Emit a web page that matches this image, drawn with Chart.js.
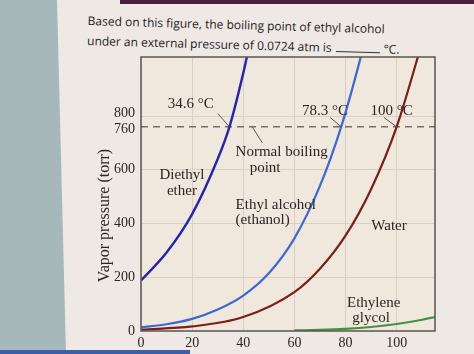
<!DOCTYPE html>
<html>
<head>
<meta charset="utf-8">
<script src="https://cdn.jsdelivr.net/npm/chart.js@4/dist/chart.umd.min.js"></script>
<style>
  html, body { margin: 0; padding: 0; }
  body { width: 474px; height: 354px; position: relative; overflow: hidden; background: #eee9e4; }
  #strip { position: absolute; left: 0; top: 0; width: 70px; height: 354px; background: #a7b8bb;
           clip-path: polygon(0 0, 57px 0, 66px 354px, 0 354px); }
  #topband { position: absolute; left: 120px; top: 0; width: 354px; height: 4px; background: #4a1f3a; }
  #botband { position: absolute; left: 0; top: 350px; width: 190px; height: 4px; background: #3e5fa8; }
  #head { position: absolute; left: 88px; top: 11px; font-family: "Open Sans", sans-serif; font-size: 12px;
          color: #222; line-height: 20px; transform: rotate(1.6deg); transform-origin: 0 0; white-space: nowrap; }
  #head .blank { display: inline-block; width: 44px; border-bottom: 1px solid #333; height: 12px; margin: 0 4px; }
  canvas { position: absolute; left: 0; top: 0; }
</style>
</head>
<body>
<div id="strip"></div>
<div id="topband"></div>
<div id="botband"></div>
<div id="head">Based on this figure, the boiling point of ethyl alcohol<br>under an external pressure of 0.0724 atm is<span class="blank"></span>°C.</div>
<canvas id="chart" width="474" height="354"></canvas>
<script>
// vapor pressure curves, [temperature °C, torr]
const etherPts = [[0, 188], [10, 292], [20, 435], [30, 640], [34.6, 760], [40, 960], [43, 1090]];
const ethanolPts = [[0, 14], [10, 25], [20, 45], [30, 80], [40, 132], [50, 215], [60, 345], [70, 540], [78.3, 760], [85, 985], [88, 1100]];
const waterPts = [[0, 5], [20, 17], [40, 52], [60, 145], [70, 232], [80, 355], [90, 528], [100, 760], [110, 1075]];
const glycolPts = [[60, 2], [70, 4], [80, 8], [90, 15], [100, 26], [110, 42], [115, 52]];

const xTicks = [0, 20, 40, 60, 80, 100];
const yTicks = [0, 200, 400, 600, 760, 800];
const gridY = [200, 400, 600, 800];
// 800 and 760 sit close together, nudge their labels apart (px)
const yLabelNudge = { 800: -3, 760: 2 };

const serif = '"Liberation Serif", "DejaVu Serif", serif';
const toXY = pts => pts.map(p => ({x: p[0], y: p[1]}));

const notes = {
  id: 'notes',
  beforeDraw(chart) {
    const {ctx, chartArea: a} = chart;
    ctx.save();
    ctx.fillStyle = '#f0e8dd';
    ctx.fillRect(a.left, a.top, a.right - a.left, a.bottom - a.top);
    ctx.restore();
  },
  afterDraw(chart) {
    const {ctx, chartArea: a, scales: {x, y}} = chart;
    const px = v => x.getPixelForValue(v), py = v => y.getPixelForValue(v);
    ctx.save();
    // frame
    ctx.strokeStyle = '#5a5552';
    ctx.lineWidth = 1.5;
    ctx.strokeRect(a.left, a.top, a.right - a.left, a.bottom - a.top);
    // 760 torr dashed line
    ctx.strokeStyle = '#333';
    ctx.lineWidth = 1;
    ctx.setLineDash([7, 5]);
    ctx.beginPath();
    ctx.moveTo(a.left, py(760));
    ctx.lineTo(a.right, py(760));
    ctx.stroke();
    ctx.setLineDash([]);
    // leader lines
    ctx.strokeStyle = '#555';
    const lead = (x1, y1, x2, y2) => { ctx.beginPath(); ctx.moveTo(px(x1), py(y1)); ctx.lineTo(px(x2), py(y2)); ctx.stroke(); };
    lead(30, 810, 34.6, 760);
    lead(74, 795, 78.3, 760);
    lead(95, 795, 100, 760);
    lead(43.5, 760, 47.5, 700);
    // crowded y tick labels
    ctx.fillStyle = '#2a2622';
    ctx.font = '14px ' + serif;
    ctx.textBaseline = 'middle';
    ctx.textAlign = 'right';
    Object.keys(yLabelNudge).forEach(k => ctx.fillText(k, a.left - 6, py(+k) + yLabelNudge[k]));
    // labels
    ctx.font = '15px ' + serif;
    ctx.textAlign = 'center';
    ctx.fillText('34.6 °C', px(19.5), py(845));
    ctx.fillText('78.3 °C', px(72), py(820));
    ctx.fillText('100 °C', px(98), py(820));
    ctx.fillText('Diethyl', px(16), py(580));
    ctx.fillText('ether', px(16), py(522));
    ctx.fillText('Water', px(97), py(390));
    ctx.fillText('Ethylene', px(91), py(105));
    ctx.fillText('glycol', px(90), py(50));
    ctx.textAlign = 'left';
    ctx.fillText('Normal boiling', px(37), py(665));
    ctx.fillText('point', px(42.5), py(608));
    ctx.fillText('Ethyl alcohol', px(37), py(470));
    ctx.fillText('(ethanol)', px(37), py(413));
    // y axis title
    ctx.translate(105, py(430));
    ctx.rotate(-Math.PI / 2);
    ctx.textAlign = 'center';
    ctx.font = '16px ' + serif;
    ctx.fillText('Vapor pressure (torr)', 0, 0);
    ctx.restore();
  }
};

const line = (pts, color, w) => ({
  data: toXY(pts), borderColor: color, borderWidth: w, showLine: true,
  pointRadius: 0, cubicInterpolationMode: 'monotone', fill: false
});

new Chart(document.getElementById('chart'), {
  type: 'scatter',
  data: {
    datasets: [
      line(etherPts, '#2424b0', 2.4),
      line(ethanolPts, '#3a68d6', 2.2),
      line(waterPts, '#7e1c18', 2.2),
      line(glycolPts, '#3f9440', 2.2)
    ]
  },
  options: {
    responsive: false,
    animation: false,
    layout: { padding: { left: 0, top: 57, right: 39, bottom: 0 } },
    plugins: { legend: { display: false }, tooltip: { enabled: false } },
    scales: {
      x: {
        type: 'linear', min: 0, max: 115,
        afterFit: s => { s.height = 23; },
        afterBuildTicks: s => { s.ticks = xTicks.map(v => ({value: v})); },
        grid: { color: '#d9d0c4', drawTicks: false, lineWidth: 1 },
        border: { display: false },
        ticks: { color: '#2a2622', font: { family: serif, size: 14 }, padding: 4, autoSkip: false, maxRotation: 0 }
      },
      y: {
        type: 'linear', min: 0, max: 1020,
        afterFit: s => { s.width = 141; },
        afterBuildTicks: s => { s.ticks = yTicks.map(v => ({value: v})); },
        grid: { color: c => gridY.includes(c.tick && c.tick.value) ? '#d9d0c4' : 'rgba(0,0,0,0)', drawTicks: false },
        border: { display: false },
        ticks: {
          color: '#2a2622', font: { family: serif, size: 14 }, padding: 6, autoSkip: false,
          callback: v => (v in yLabelNudge ? '' : v)
        }
      }
    }
  },
  plugins: [notes]
});
</script>
</body>
</html>
